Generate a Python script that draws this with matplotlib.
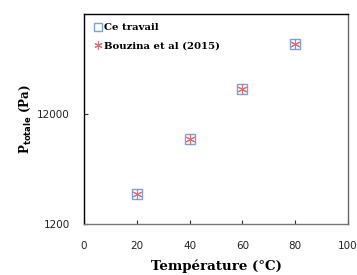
import numpy
from matplotlib import pyplot as plt
from matplotlib.ticker import FixedLocator, NullLocator

temperature = [20, 40, 60, 80]
p_ce_travail = [2250, 7100, 20500, 52000]
p_bouzina = [2250, 7100, 20500, 52000]
xticks = [0, 20, 40, 60, 80, 100]
yticks = [1200, 12000]

plt.rcParams['font.family'] = ['DejaVu Serif']

fig = plt.figure(figsize=(3.57, 2.75), dpi=100)
ax = fig.add_axes([0.235, 0.185, 0.74, 0.764])

ax.plot(temperature, p_ce_travail, linestyle='none', marker='s', markersize=6.5,
        markerfacecolor='none', markeredgecolor='#7aa3d6', markeredgewidth=1.0, label='Ce travail')
ax.plot(temperature, p_bouzina, linestyle='none', marker=(6, 2, 0), markersize=7,
        markeredgecolor='#e07078', markeredgewidth=0.8, label='Bouzina et al (2015)')

ax.set_yscale('log')
ax.set_xlim(0, 100)
ax.set_ylim(1200, 98000)
ax.xaxis.set_major_locator(FixedLocator(xticks))
ax.yaxis.set_major_locator(FixedLocator(yticks))
ax.yaxis.set_minor_locator(NullLocator())
ax.set_yticklabels([str(v) for v in yticks])
ax.tick_params(axis='both', direction='in', length=3, labelsize=7.5, colors='#333333',
               labelcolor='#222222')
for lab in ax.get_xticklabels() + ax.get_yticklabels():
    lab.set_family('DejaVu Sans')
ax.tick_params(axis='x', pad=12)
ax.tick_params(axis='y', pad=10)

ax.spines['left'].set_color('black')
ax.spines['top'].set_color('black')
ax.spines['right'].set_color('#666666')
ax.spines['bottom'].set_color('#777777')
for s in ax.spines.values():
    s.set_linewidth(1.0)

ax.set_xlabel('Température (°C)', fontsize=9.6, fontweight='bold', labelpad=6)
ax.set_ylabel(r'P$_{\mathbf{totale}}$ (Pa)', fontsize=8.6, fontweight='bold', labelpad=3)

ax.legend(loc='upper left', frameon=False, prop={'weight': 'bold', 'size': 7.3},
          handletextpad=0.15, handlelength=0.9, borderaxespad=0.5, labelspacing=0.95,
          markerscale=0.85)

plt.savefig('out.png', dpi=100)
